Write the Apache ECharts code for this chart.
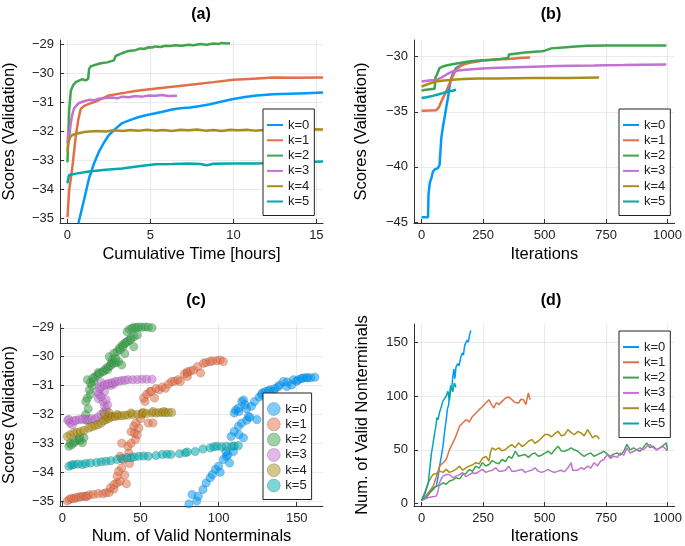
<!DOCTYPE html>
<html>
<head>
<meta charset="utf-8">
<script src="https://cdn.jsdelivr.net/npm/echarts/dist/echarts.min.js"></script>
<style>
  html, body { margin: 0; padding: 0; background: #fff; }
  #chart { width: 685px; height: 546px; }
</style>
</head>
<body>
<div id="chart"></div>
<script>
var kNames = ['k=0', 'k=1', 'k=2', 'k=3', 'k=4', 'k=5'];
var panelTitles = ['(a)', '(b)', '(c)', '(d)'];

// (a) score vs cumulative time [hours]
var aK0 = [[0.66,-35.16],[1.0,-34.35],[1.3,-33.61],[1.6,-33.1],[1.9,-32.69],[2.2,-32.38],[2.5,-32.12],[2.9,-31.9],[3.3,-31.71],[3.8,-31.6],[4.3,-31.5],[4.8,-31.43],[5.3,-31.37],[5.8,-31.31],[6.3,-31.24],[6.8,-31.2],[7.4,-31.17],[8.0,-31.12],[8.6,-31.06],[9.3,-30.97],[10.0,-30.88],[10.7,-30.81],[11.4,-30.76],[12.4,-30.72],[13.4,-30.7],[14.4,-30.68],[15.4,-30.66]];
var aK1 = [[0,-34.95],[0.1,-34.05],[0.3,-33.2],[0.5,-32.17],[0.65,-31.6],[0.8,-31.22],[1.0,-31.12],[1.3,-31.05],[1.7,-30.97],[2.1,-30.86],[2.5,-30.76],[3.4,-30.67],[4.3,-30.59],[5.5,-30.51],[6.6,-30.44],[7.7,-30.37],[8.8,-30.3],[10.0,-30.22],[11.2,-30.18],[12.4,-30.14],[13.9,-30.15],[15.4,-30.14]];
var aK2 = [[0,-33.06],[0.05,-32.2],[0.1,-31.3],[0.2,-30.6],[0.35,-30.4],[0.5,-30.3],[0.7,-30.25],[0.9,-30.2],[1.1,-30.24],[1.25,-30.18],[1.3,-29.85],[1.4,-29.76],[1.7,-29.7],[2.0,-29.65],[2.4,-29.62],[2.8,-29.55],[2.9,-29.4],[3.2,-29.33],[3.4,-29.28],[3.6,-29.24],[3.8,-29.22],[3.9,-29.19],[4.1,-29.2],[4.4,-29.14],[4.6,-29.16],[4.9,-29.1],[5.1,-29.11],[5.3,-29.07],[5.6,-29.09],[5.9,-29.05],[6.2,-29.06],[6.5,-29.03],[6.9,-29.05],[7.3,-29.01],[7.6,-29.03],[8.0,-28.99],[8.4,-29.01],[8.8,-28.97],[9.1,-28.99],[9.3,-28.95],[9.6,-28.97],[9.8,-28.96]];
var aK3 = [[0,-32.41],[0.05,-32.0],[0.1,-32.23],[0.2,-31.7],[0.3,-31.4],[0.4,-31.2],[0.55,-31.1],[0.7,-31.02],[1.0,-30.96],[1.3,-30.91],[1.6,-30.93],[1.9,-30.87],[2.3,-30.85],[2.7,-30.83],[3.0,-30.86],[3.3,-30.8],[3.7,-30.82],[4.1,-30.78],[4.5,-30.8],[4.9,-30.76],[5.3,-30.77],[5.7,-30.74],[6.1,-30.78],[6.6,-30.77]];
var aK4 = [[0,-32.69],[0.05,-32.4],[0.15,-32.2],[0.3,-32.12],[0.5,-32.08],[0.7,-32.06],[1.0,-32.02],[1.3,-32.0],[1.8,-31.98],[2.3,-32.0],[2.8,-31.96],[3.3,-31.98],[3.8,-31.95],[4.3,-31.97],[4.8,-31.94],[5.3,-31.97],[5.8,-31.95],[6.3,-31.98],[6.8,-31.94],[7.3,-31.96],[7.8,-31.93],[8.3,-31.97],[8.8,-31.95],[9.3,-31.98],[9.8,-31.94],[10.3,-31.96],[10.8,-31.94],[11.3,-31.97],[11.8,-31.95],[12.3,-31.96],[12.8,-31.93],[13.3,-31.96],[13.8,-31.94],[14.3,-31.96],[14.8,-31.92],[15.4,-31.93]];
var aK5 = [[0,-33.78],[0.05,-33.6],[0.1,-33.5],[0.5,-33.45],[1.3,-33.38],[2.3,-33.32],[3.3,-33.27],[4.3,-33.2],[5.3,-33.13],[6.3,-33.12],[7.3,-33.1],[8.0,-33.12],[8.4,-33.16],[8.8,-33.11],[10,-33.1],[11.4,-33.1],[12.5,-33.08],[13.5,-33.06],[14.5,-33.05],[15.4,-33.03]];

// (b) score vs iterations
var bK0 = [[0,-44.57],[26,-44.57],[28,-42.5],[33,-41.48],[40,-41.0],[46,-40.42],[55,-40.2],[66,-40.12],[73,-39.82],[80,-37.39],[87,-36.3],[93,-35.57],[100,-34.6],[107,-33.75],[113,-32.8],[120,-31.94],[130,-31.4],[140,-31.03],[160,-30.75],[180,-30.57],[200,-30.45]];
var bK1 = [[0,-34.9],[30,-34.88],[60,-34.85],[70,-34.6],[80,-34.06],[90,-33.6],[100,-33.15],[110,-32.6],[120,-32.09],[130,-31.6],[140,-31.18],[155,-30.9],[167,-30.73],[190,-30.58],[220,-30.45],[250,-30.35],[287,-30.27],[320,-30.23],[354,-30.2],[400,-30.12],[441,-30.06]];
var bK2 = [[0,-33.06],[25,-32.98],[53,-32.9],[56,-31.9],[62,-31.63],[73,-31.03],[87,-30.88],[100,-30.79],[125,-30.68],[154,-30.57],[185,-30.45],[220,-30.36],[250,-30.31],[287,-30.27],[320,-30.2],[351,-30.12],[355,-29.8],[360,-29.73],[420,-29.62],[488,-29.51],[501,-29.45],[527,-29.24],[575,-29.15],[625,-29.07],[675,-29.0],[750,-28.99],[825,-28.98],[900,-28.97],[950,-28.98],[995,-28.97]];
var bK3 = [[0,-32.24],[30,-32.16],[60,-32.1],[80,-31.9],[100,-31.63],[115,-31.45],[127,-31.33],[150,-31.24],[180,-31.18],[230,-31.1],[287,-31.03],[350,-30.97],[420,-30.92],[488,-30.88],[550,-30.85],[620,-30.82],[700,-30.8],[750,-30.78],[820,-30.76],[900,-30.73],[995,-30.7]];
var bK4 = [[0,-32.7],[30,-32.45],[60,-32.24],[90,-32.15],[127,-32.09],[170,-32.02],[230,-31.98],[300,-31.97],[380,-31.95],[450,-31.94],[520,-31.93],[600,-31.92],[660,-31.9],[722,-31.88]];
var bK5 = [[0,-33.75],[20,-33.68],[45,-33.55],[70,-33.4],[86,-33.3],[100,-33.2],[115,-33.12],[125,-33.08],[140,-33.0]];

// (c) score vs number of valid nonterminals
var cK0 = [[81,-35.1],[83,-34.77],[86,-35.0],[87,-34.83],[90,-34.6],[92,-34.37],[94.6,-34.19],[96,-34.08],[98,-33.9],[100,-33.79],[101,-34.0],[103,-33.56],[105,-33.45],[106,-33.4],[107,-33.68],[104.6,-33.28],[109.5,-33.28],[108,-32.76],[110,-32.59],[112.7,-32.41],[113,-32.7],[115.9,-32.81],[114.8,-32.3],[118,-32.2],[110,-31.95],[111,-31.85],[113,-31.9],[112.7,-31.78],[114.8,-31.55],[116,-31.5],[117,-31.67],[118,-31.8],[119,-32.07],[120,-32.1],[121,-31.72],[123,-31.55],[124.5,-32.18],[126,-31.4],[127.6,-31.32],[128,-31.25],[130,-31.21],[132,-31.18],[133,-31.15],[135,-31.21],[136,-31.1],[138,-31.05],[139,-30.98],[141.5,-30.86],[143.6,-31.03],[144,-30.88],[146.8,-30.98],[148,-30.8],[150,-30.85],[151,-30.8],[153,-30.76],[154,-30.74],[156,-30.72],[157,-30.74],[159,-30.73],[161.6,-30.71]];
var cK1 = [[3.2,-35.0],[4.6,-34.94],[6,-34.9],[7.5,-34.92],[9,-34.88],[10.5,-34.86],[12,-34.85],[13.5,-34.83],[15,-34.84],[16,-34.83],[17.3,-34.78],[20,-34.77],[23,-34.74],[26,-34.75],[28,-34.71],[30,-34.7],[30.8,-34.54],[33,-34.58],[33,-34.43],[35,-34.37],[37,-34.31],[41,-34.4],[40,-34.1],[35,-34.14],[36,-33.97],[38,-33.85],[43,-33.7],[39,-33.56],[37,-33.45],[42.5,-33.33],[42,-33.1],[38,-33.0],[44,-33.0],[46.8,-32.87],[48,-32.7],[46,-32.64],[44,-32.6],[45.7,-32.41],[49,-32.47],[47,-32.3],[50,-32.15],[55,-32.3],[58,-32.3],[51,-31.95],[53,-31.55],[52,-31.43],[54,-31.3],[56,-31.21],[57,-31.2],[59,-31.43],[60,-31.1],[62,-31.15],[64,-31.05],[66,-31.09],[68,-30.95],[70,-30.86],[72,-30.85],[74,-30.8],[75.5,-30.86],[78,-30.6],[80,-30.57],[80,-30.52],[80,-30.69],[82,-30.5],[84,-30.46],[86.6,-30.34],[88.5,-30.57],[90.4,-30.23],[92,-30.2],[94.6,-30.17],[96,-30.15],[99,-30.14],[101,-30.12],[103,-30.17]];
var cK2 = [[4.2,-33.1],[5,-33.0],[6,-33.05],[7.4,-32.98],[8.5,-32.92],[10.6,-32.87],[11.5,-32.9],[12.8,-32.98],[13.8,-32.81],[11,-32.78],[15.5,-32.2],[14.9,-32.01],[16.5,-31.8],[16,-31.44],[15,-31.55],[18,-31.3],[17.3,-31.15],[19,-31.0],[16,-30.8],[18,-30.9],[20,-30.85],[19.5,-30.74],[21,-30.7],[22.7,-30.63],[23,-30.55],[24,-30.58],[25.9,-30.52],[27,-30.48],[28,-30.4],[29,-30.45],[29.8,-30.34],[31,-30.3],[31.5,-30.2],[32,-30.1],[33,-30.23],[34.5,-30.2],[36,-30.17],[38,-30.29],[30,-30.0],[34,-30.05],[33,-29.88],[35,-29.83],[40,-29.9],[36.5,-29.7],[37,-29.75],[38.3,-29.6],[39,-29.65],[40,-29.54],[41,-29.5],[42,-29.45],[43.6,-29.42],[44,-29.35],[45.7,-29.66],[46,-29.3],[48,-29.25],[41.4,-29.14],[43,-29.05],[44.7,-29.02],[46,-28.98],[47.5,-29.0],[49,-28.97],[51,-28.98],[53,-28.97],[55,-28.98],[57.4,-29.0]];
var cK3 = [[3.5,-32.2],[4.2,-32.18],[5,-32.3],[6.4,-32.36],[7.5,-32.22],[9,-32.2],[11,-32.18],[13,-32.17],[15,-32.18],[17,-32.18],[19,-32.15],[21,-32.18],[22.7,-32.1],[24.8,-32.0],[30,-32.05],[26.5,-31.92],[28,-31.84],[27,-31.7],[29,-31.67],[26,-31.55],[28,-31.49],[23,-31.45],[24.8,-31.38],[23.5,-31.3],[22.7,-31.21],[27,-31.2],[24,-31.1],[24.8,-31.03],[31,-31.0],[25,-30.9],[27,-30.98],[29,-30.95],[33,-30.95],[30,-30.92],[32,-30.9],[34,-30.86],[36,-30.85],[38,-30.83],[40,-30.82],[42,-30.8],[45,-30.8],[48,-30.79],[51,-30.78],[54,-30.78],[57.4,-30.78]];
var cK4 = [[3.2,-32.76],[5,-32.7],[7.4,-32.64],[9.5,-32.62],[11.7,-32.59],[14,-32.55],[17,-32.47],[19,-32.43],[21,-32.39],[23,-32.35],[24.8,-32.3],[26.5,-32.22],[28,-32.18],[29,-32.1],[30,-32.13],[27,-32.0],[30,-31.95],[32,-32.08],[34,-32.07],[35,-32.0],[36,-32.05],[38,-32.05],[40,-32.03],[42,-32.02],[44,-31.95],[45,-32.0],[48,-31.99],[51,-31.99],[52,-31.93],[54,-31.97],[57.4,-31.95],[58,-31.9],[60,-31.95],[62,-31.93],[64,-31.93],[65,-31.9],[66,-31.94],[68,-31.93],[70,-31.93]];
var cK5 = [[4.2,-33.79],[6,-33.75],[7.4,-33.73],[10,-33.72],[12.8,-33.73],[15,-33.7],[18,-33.68],[22,-33.66],[25,-33.64],[28,-33.62],[31,-33.6],[35,-33.56],[38,-33.53],[41.4,-33.5],[44,-33.5],[46,-33.47],[49,-33.45],[52,-33.44],[55,-33.45],[60,-33.42],[64,-33.39],[67,-33.38],[69.5,-33.39],[75,-33.36],[78.7,-33.33],[80,-33.3],[85,-33.28],[90,-33.2],[94.6,-33.16],[97,-33.12],[99,-33.1],[102,-33.12],[105,-33.1],[108.5,-33.1],[110,-33.09],[112.7,-33.08]];

// (d) number of valid nonterminals vs iterations
var dK0 = [[0,3],[7,2.4],[15,5],[25,8],[33,10.2],[45,14],[60,16.3],[67,25],[73,34.8],[80,44],[87,53.3],[93,66],[100,78],[105,88],[110,92],[113,99.6],[118,110],[122,106],[127,118],[131,125],[135,116],[140,127],[147,130],[152,128],[160,136.7],[165,140],[170,138],[175,147],[180,147.5],[185,152],[190,150],[195,157],[200,161]];
var dK1 = [[0,3],[7,2.4],[20,8],[33,12],[46.6,16],[60,25],[73,34.8],[87,38],[100,41],[113,50],[127,56.5],[140,63],[154,71.9],[167,75],[180,78],[194,76],[207,81],[220,84],[234,87.3],[247,90],[261,93.5],[274,96.6],[284,92],[294,88.9],[304,94],[314,92],[327,95],[341,98.1],[354,99],[367,96.6],[380,94],[394,93.5],[404,97],[414,96.6],[424,92],[434,102.8],[441,96.6]];
var dK2 = [[0,3],[7,2.4],[20,6],[33,10.2],[46,13],[60,16.3],[73,17],[87,19.4],[100,18],[113,21],[127,22],[140,24],[154,23],[167,27],[180,28],[194,31.8],[207,30],[220,34.8],[234,33],[247,38],[261,35],[274,36.4],[287,40],[301,38],[314,37],[327,41],[341,39],[354,44],[367,42],[381,48.7],[394,44],[408,45],[421,45.6],[434,43],[448,46],[461,47],[474,44],[488,45],[501,47],[515,48.7],[528,46],[541,50],[555,53.3],[568,49],[581,48.7],[595,50],[608,51.8],[621,50],[635,48.7],[648,46],[661,44],[675,46],[688,47],[701,44],[715,45.6],[728,47],[741,48.7],[755,46],[768,44],[781,46],[795,47],[808,45],[822,48.7],[835,55],[848,50],[862,51.8],[875,50],[888,48.7],[901,52],[915,56.5],[928,52],[942,53.3],[955,50],[969,51.8],[982,54],[995,56.5],[1000,50]];
var dK3 = [[0,3],[7,2.4],[20,5],[33,6],[46,6.5],[60,7],[67,12],[73,19.4],[80,23],[87,25.6],[100,27],[113,27],[127,24],[140,25.6],[154,27],[167,28.7],[180,25],[194,27],[207,28.7],[220,28],[234,30],[247,31.8],[261,29],[274,30.2],[287,31],[301,33.3],[314,30],[327,30.2],[341,31],[354,34.8],[367,30],[381,30.2],[394,31],[408,31.8],[421,29],[434,30.2],[448,31],[461,33.3],[474,30.2],[488,29],[501,30.2],[515,31.8],[528,30],[541,29],[555,30.2],[568,31],[581,29.5],[595,33.3],[608,38],[614,31],[621,31.8],[635,31],[648,33.3],[661,32],[675,34.8],[688,33],[701,38],[715,35],[728,39.5],[741,41],[755,45.6],[768,42],[781,44],[795,43],[808,47],[822,45],[835,51.8],[848,47],[862,48.7],[875,50],[888,51.8],[901,50],[915,53],[928,55],[942,52],[955,50],[969,51.8],[982,53],[995,50],[1000,49]];
var dK4 = [[0,3],[7,4],[15,12],[27,19.4],[37,24],[46.6,27],[60,28],[73,30.2],[87,29],[100,31.8],[113,29],[127,30.2],[140,32],[154,34.8],[167,31],[180,33.3],[194,35],[207,36],[220,38],[234,37],[247,42],[261,44],[274,39.6],[280,48],[287,51.8],[300,50],[314,51.8],[327,49],[341,50.3],[354,53],[367,54.9],[380,52],[394,56.5],[408,53],[421,55],[434,58],[448,59.5],[461,56],[474,58],[488,61],[501,64.2],[515,64.2],[528,62],[541,65],[555,67.2],[568,63],[581,64],[595,68.8],[608,66],[621,64],[635,67],[648,65.7],[661,63],[675,68.8],[688,64],[695,61],[705,63],[715,62.5],[722,60]];
var dK5 = [[0,3],[7,2.4],[15,10],[27,19.4],[33,32],[40,47],[46,55],[53,65.7],[58,72],[62,80],[67,78],[73,85],[80,90],[86,95],[93,96.6],[100,100],[107,104.3],[113,96],[120,108.9],[127,104],[133,112],[140,108]];

// tick positions of each panel
var ticksScore = [-35, -34, -33, -32, -31, -30, -29];
var ticksHours = [0, 5, 10, 15];
var ticksIter = [0, 250, 500, 750, 1000];
var ticksScoreIter = [-45, -40, -35, -30];
var ticksNonterm = [0, 50, 100, 150];
var ticksCount = [0, 50, 100, 150];

var palette = ['#009AFA', '#E36F47', '#3EA44E', '#C371D2', '#AC8D18', '#00A9AD'];
var FONT = '"Liberation Sans", Arial, sans-serif';

var grids = [
    {left: 59, top: 40, width: 264, height: 183},
    {left: 414, top: 40, width: 264, height: 183},
    {left: 59, top: 324, width: 264, height: 183},
    {left: 414, top: 324, width: 264, height: 183}
];

function fmtTick(v){
    return String(v).replace('-', '\u2212');
}

function makeAxis(gridIndex, min, max, ticks, name, nameGap){
    return {
        type: 'value',
        gridIndex: gridIndex,
        min: min,
        max: max,
        name: name,
        nameLocation: 'middle',
        nameGap: nameGap,
        nameTextStyle: {fontSize: 16.5, color: '#000', fontFamily: FONT},
        axisLine: {show: true, onZero: false, lineStyle: {color: '#333', width: 1}},
        axisTick: {show: true, inside: true, length: 4, customValues: ticks, lineStyle: {color: '#333'}},
        axisLabel: {customValues: ticks, fontSize: 13, color: '#222', fontFamily: FONT, margin: 6, formatter: fmtTick},
        splitLine: {show: true, lineStyle: {color: 'rgba(0,0,0,0.08)', width: 1}}
    };
}

function makeLegend(left, top, isScatter){
    return {
        left: left,
        top: top,
        orient: 'vertical',
        selectedMode: false,
        backgroundColor: '#fff',
        borderColor: '#222',
        borderWidth: 1,
        padding: [9, 5, 7, 4],
        itemGap: 1.3,
        itemWidth: isScatter ? 13 : 16,
        itemHeight: isScatter ? 13 : 2,
        textStyle: {fontSize: 13, lineHeight: 14, color: '#222', fontFamily: FONT},
        data: kNames.map(function(name, i){
            return isScatter ? {
                name: name, icon: 'circle',
                itemStyle: {color: palette[i], opacity: 0.5, borderColor: 'rgba(0,0,0,0.6)', borderWidth: 0.6}
            } : {
                name: name, icon: 'rect',
                itemStyle: {color: palette[i], opacity: 1, borderWidth: 0}
            };
        })
    };
}

function lineSeries(datas, axisIndex, width){
    return datas.map(function(d, i){
        return {
            type: 'line', name: kNames[i], xAxisIndex: axisIndex, yAxisIndex: axisIndex,
            data: d, showSymbol: false, symbol: 'none', clip: true,
            lineStyle: {color: palette[i], width: width},
            itemStyle: {color: palette[i]}
        };
    });
}

function scatterSeries(datas, axisIndex){
    return datas.map(function(d, i){
        return {
            type: 'scatter', name: kNames[i], xAxisIndex: axisIndex, yAxisIndex: axisIndex,
            data: d, symbolSize: 8.5, clip: true,
            itemStyle: {color: palette[i], opacity: 0.55, borderColor: 'rgba(0,0,0,0.45)', borderWidth: 0.5}
        };
    });
}

var titleCenters = [[196, 2], [546, 2], [191, 288], [546, 288]];

var option = {
    animation: false,
    backgroundColor: '#fff',
    title: panelTitles.map(function(t, i){
        return {
            text: t, left: titleCenters[i][0], top: titleCenters[i][1], textAlign: 'center',
            textStyle: {fontSize: 16, fontWeight: 'bold', color: '#000', fontFamily: FONT}
        };
    }),
    grid: grids,
    xAxis: [
        makeAxis(0, -0.45, 15.4, ticksHours, 'Cumulative Time [hours]', 23),
        makeAxis(1, -31, 1029, ticksIter, 'Iterations', 23),
        makeAxis(2, -1.5, 166.8, ticksNonterm, 'Num. of Valid Nonterminals', 22),
        makeAxis(3, -31, 1029, ticksIter, 'Iterations', 22)
    ],
    yAxis: [
        makeAxis(0, -35.15, -28.85, ticksScore, 'Scores (Validation)', 42),
        makeAxis(1, -45.09, -28.48, ticksScoreIter, 'Scores (Validation)', 44),
        makeAxis(2, -35.17, -28.87, ticksScore, 'Scores (Validation)', 42),
        makeAxis(3, -2.2, 166.9, ticksCount, 'Num. of Valid Nonterminals', 43)
    ],
    legend: [
        makeLegend(263, 109, false),
        makeLegend(619, 109, false),
        makeLegend(263, 393, true),
        makeLegend(619, 331, false)
    ],
    series: [].concat(
        lineSeries([aK0, aK1, aK2, aK3, aK4, aK5], 0, 2.5),
        lineSeries([bK0, bK1, bK2, bK3, bK4, bK5], 1, 2.5),
        scatterSeries([cK0, cK1, cK2, cK3, cK4, cK5], 2),
        lineSeries([dK0, dK1, dK2, dK3, dK4, dK5], 3, 1.5)
    )
};

var chart = echarts.init(document.getElementById('chart'));
chart.setOption(option);
</script>
</body>
</html>
